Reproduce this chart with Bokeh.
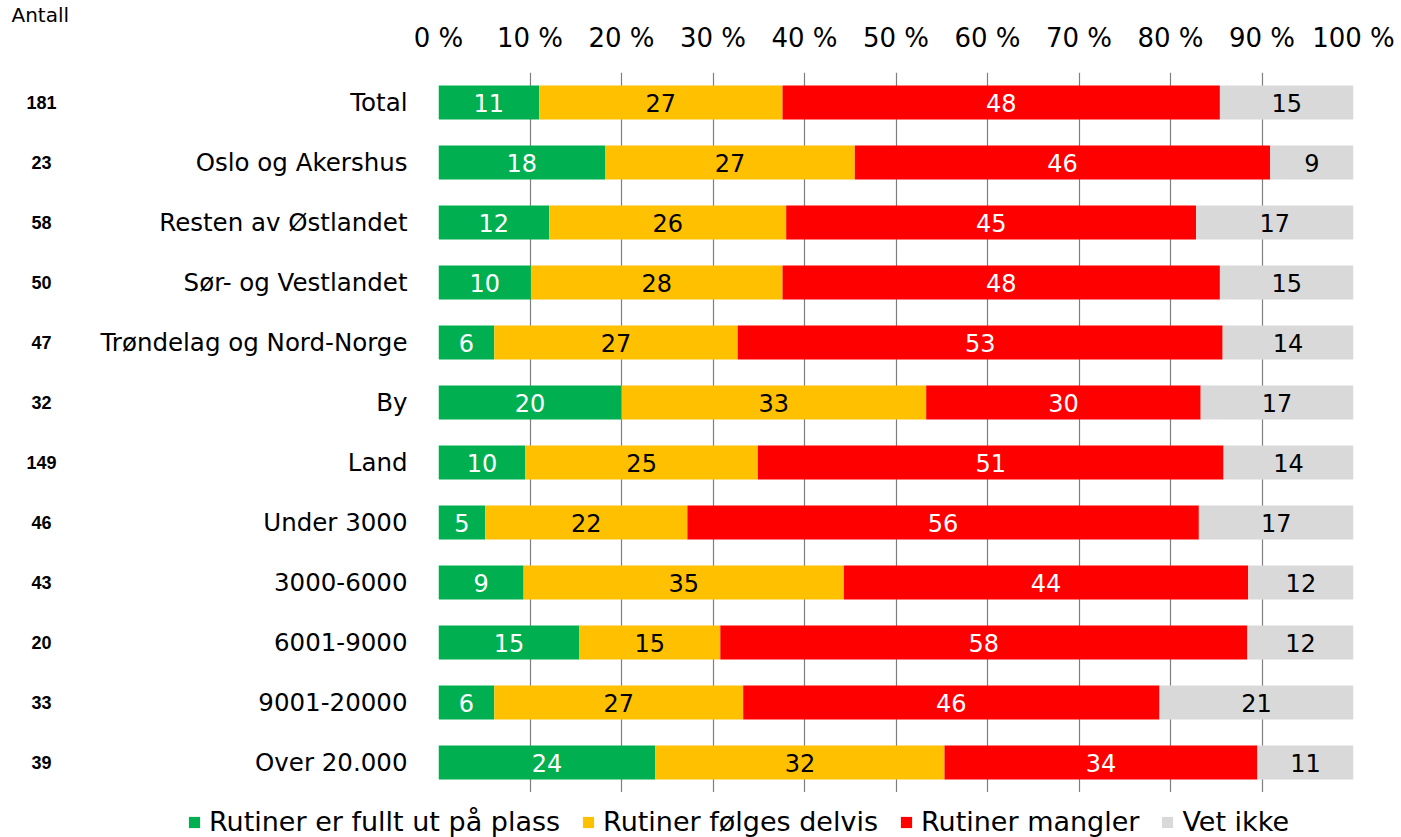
from bokeh.plotting import figure
from bokeh.layouts import column, row
from bokeh.models import (ColumnDataSource, Range1d, FixedTicker, LinearAxis,
                          Legend, LegendItem, Title)
from bokeh.core.properties import value
from bokeh.embed import file_html
from bokeh.resources import INLINE

categories = ["Total", "Oslo og Akershus", "Resten av Østlandet", "Sør- og Vestlandet",
              "Trøndelag og Nord-Norge", "By", "Land", "Under 3000", "3000-6000",
              "6001-9000", "9001-20000", "Over 20.000"]
counts = ["181", "23", "58", "50", "47", "32", "149", "46", "43", "20", "33", "39"]
count_header = "Antall"

series_names = ["Rutiner er fullt ut på plass", "Rutiner følges delvis",
                "Rutiner mangler", "Vet ikke"]
series_colors = ["#00B050", "#FFC000", "#FF0000", "#D9D9D9"]
label_colors = ["#FFFFFF", "#000000", "#FFFFFF", "#000000"]

# percentages (bar widths)
full = [11.0, 18.2, 12.1, 10.1, 6.1, 20.0, 9.5, 5.1, 9.3, 15.4, 6.1, 23.7]
partly = [26.6, 27.3, 25.9, 27.5, 26.6, 33.3, 25.4, 22.1, 35.0, 15.4, 27.2, 31.6]
missing = [47.8, 45.4, 44.8, 47.8, 53.0, 30.0, 50.9, 55.9, 44.2, 57.6, 45.5, 34.2]
unknown = [14.6, 9.1, 17.2, 14.6, 14.3, 16.7, 14.2, 16.9, 11.5, 11.6, 21.2, 10.5]

# printed data labels
full_lbl = ["11", "18", "12", "10", "6", "20", "10", "5", "9", "15", "6", "24"]
partly_lbl = ["27", "27", "26", "28", "27", "33", "25", "22", "35", "15", "27", "32"]
missing_lbl = ["48", "46", "45", "48", "53", "30", "51", "56", "44", "58", "46", "34"]
unknown_lbl = ["15", "9", "17", "15", "14", "17", "14", "17", "12", "12", "21", "11"]

x_ticks = [0, 10, 20, 30, 40, 50, 60, 70, 80, 90, 100]
x_tick_labels = ["0 %", "10 %", "20 %", "30 %", "40 %", "50 %", "60 %", "70 %",
                 "80 %", "90 %", "100 %"]

n = len(categories)
ypos = [n - 1 - i for i in range(n)]

values = [full, partly, missing, unknown]
labels = [full_lbl, partly_lbl, missing_lbl, unknown_lbl]

FONT = "DejaVu Sans"

# ---- layout constants (pixels) ----
W, H = 1401, 837
LEFT_W = 90           # narrow column holding the counts
TOP = 72              # frame top
ROW_PX = 60           # pixels per category row
FRAME_H = ROW_PX * n  # 720
MAIN_H = TOP + FRAME_H
LEG_H = H - MAIN_H

yr = Range1d(-0.5, n - 0.5)

# ---- main chart ----
p = figure(width=W - LEFT_W, height=MAIN_H, output_backend="svg", toolbar_location=None,
           x_range=Range1d(0, 100), y_range=yr,
           x_axis_location=None, y_axis_location=None, title=None,
           min_border_left=438 - LEFT_W, min_border_right=48, min_border_top=TOP,
           min_border_bottom=0)
p.outline_line_color = None
p.background_fill_color = "white"
p.border_fill_color = "white"

ticker = FixedTicker(ticks=x_ticks)
p.xgrid.ticker = ticker
p.xgrid.grid_line_color = "#7F7F7F"
p.xgrid.grid_line_width = 1.2
p.ygrid.grid_line_color = None


def plain_axis(ax):
    ax.axis_line_color = None
    ax.major_tick_line_color = None
    ax.minor_tick_line_color = None
    ax.major_tick_out = 0
    ax.major_tick_in = 0
    ax.major_label_text_color = "#000000"


top = LinearAxis(ticker=ticker)
top.major_label_overrides = {t: l for t, l in zip(x_ticks, x_tick_labels)}
plain_axis(top)
top.major_label_standoff = 20
top.major_label_text_font = FONT
top.major_label_text_font_size = "26px"
p.add_layout(top, "above")

left = LinearAxis(ticker=FixedTicker(ticks=ypos))
left.major_label_overrides = {y: c for y, c in zip(ypos, categories)}
plain_axis(left)
left.major_label_standoff = 31
left.major_label_text_font = FONT
left.major_label_text_font_size = "24.5px"
p.add_layout(left, "left")

cum = [0.0] * n
for k in range(4):
    lefts = cum[:]
    rights = [a + b for a, b in zip(cum, values[k])]
    mids = [(a + b) / 2 for a, b in zip(lefts, rights)]
    src = ColumnDataSource(dict(y=ypos, left=lefts, right=rights, mid=mids, lbl=labels[k]))
    p.hbar(y="y", left="left", right="right", height=0.57, source=src,
           fill_color=series_colors[k], line_color=None)
    p.text(x="mid", y="y", text="lbl", source=src, text_align="center",
           text_baseline="middle", text_font=value(FONT), text_font_size="24px",
           text_color=label_colors[k])
    cum = rights

# ---- counts column (shares the row scale of the main frame) ----
q = figure(width=LEFT_W, height=MAIN_H, output_backend="svg", toolbar_location=None,
           x_range=Range1d(0, LEFT_W), y_range=yr,
           x_axis_location=None, y_axis_location=None, title=None,
           min_border_left=0, min_border_right=0,
           min_border_top=TOP, min_border_bottom=0)
q.outline_line_color = None
q.grid.grid_line_color = None
q.text(x=[41] * n, y=ypos, text=counts, text_align="center", text_baseline="middle",
       text_font=value("Liberation Sans"), text_font_style="bold",
       text_font_size="18px", text_color="#000000")
# blank spacer panel between the frame and the header
q.add_layout(Title(text=" ", standoff=20, text_font=FONT, text_font_size="20px"), "above")
q.add_layout(Title(text=count_header, align="left", offset=11, standoff=0,
                   text_font=FONT, text_font_size="20px", text_font_style="normal",
                   text_color="#000000"), "above")

# ---- legend strip ----
lg = figure(width=W, height=LEG_H, output_backend="svg", toolbar_location=None,
            x_range=Range1d(0, W), y_range=Range1d(0, LEG_H),
            x_axis_location=None, y_axis_location=None, title=None,
            min_border_left=0, min_border_right=0,
            min_border_top=0, min_border_bottom=0)
lg.outline_line_color = None
lg.grid.grid_line_color = None
items = []
for k in range(4):
    # off-canvas swatch carrier, only used to draw the legend square
    r = lg.hbar(y=[-10 * LEG_H], left=[0], right=[1], height=1,
                fill_color=series_colors[k], line_color=None)
    items.append(LegendItem(label=series_names[k], renderers=[r]))
legend = Legend(items=items, orientation="horizontal", location=(187, 0),
                glyph_width=14, glyph_height=14, label_standoff=8, spacing=21,
                padding=0, margin=0, border_line_color=None, background_fill_alpha=0,
                label_text_font=FONT, label_text_font_size="27px",
                label_text_color="#000000")
lg.add_layout(legend, "center")

layout = column(row(q, p, spacing=0), lg, spacing=0)
open("out.html", "w").write(file_html(layout, INLINE))
